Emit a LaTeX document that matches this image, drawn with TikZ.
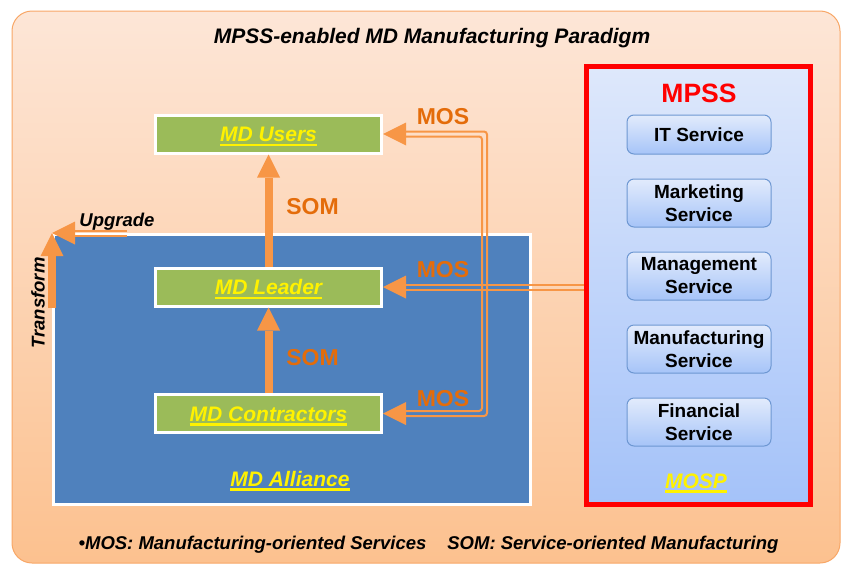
\documentclass[tikz,border=0pt]{standalone}
\usepackage{fontspec}
\setmainfont{Liberation Sans}
\usepackage{tikz}
\usetikzlibrary{positioning}
\usetikzlibrary{calc,arrows.meta}

\definecolor{paradigmtop}{HTML}{FDE6D7}
\definecolor{paradigmbottom}{HTML}{FCC18F}
\definecolor{paradigmedge}{HTML}{F8A767}
\definecolor{allianceblue}{HTML}{4F81BD}
\definecolor{mdgreen}{HTML}{9BBB59}
\definecolor{arrorange}{HTML}{F79646}
\definecolor{textorange}{HTML}{E46C0A}
\definecolor{mpsstop}{HTML}{DEE8FB}
\definecolor{mpssbottom}{HTML}{A4C2F9}
\definecolor{servicetop}{HTML}{E2EBFC}
\definecolor{servicebottom}{HTML}{A6C4F8}
\definecolor{serviceedge}{HTML}{6D97D2}

% yellow labels get a thick bar underneath
\newsavebox{\mdulbox}
\newcommand{\mdul}[1]{\sbox{\mdulbox}{#1}\rlap{\rule[-4.5pt]{\wd\mdulbox}{2.5pt}}\usebox{\mdulbox}}

\tikzset{
  mdbox/.style={draw=white, line width=3pt, fill=mdgreen, minimum width=226pt, minimum height=38pt,
    text=yellow, text height=15pt, text depth=0pt, font=\fontsize{21}{25}\selectfont\bfseries\itshape},
  service/.style={draw=serviceedge, line width=1pt, rounded corners=7pt, top color=servicetop,
    bottom color=servicebottom, minimum width=144pt, minimum height=48pt, inner sep=1pt,
    align=center, font=\fontsize{19}{23}\selectfont\bfseries},
  somarrow/.style={draw=arrorange, line width=8pt, -{Triangle[length=23pt,width=23pt,line width=0pt]}},
  mosline/.style={draw=arrorange, line width=2pt, rounded corners=3pt},
  moshead/.style={draw=arrorange, line width=0.5pt, -{Triangle[length=23pt,width=23pt,line width=0pt]}},
  flowlabel/.style={text=textorange, font=\fontsize{23}{27}\selectfont\bfseries},
  yellowlabel/.style={text=yellow, font=\fontsize{21}{25}\selectfont\bfseries\itshape},
  note/.style={font=\fontsize{18.5}{22}\selectfont\bfseries\itshape},
}

\begin{document}
\begin{tikzpicture}[x=1pt, y=-1pt]

	\useasboundingbox (0,0) rectangle (842,565);

	% background panel
	\draw[draw=paradigmedge, line width=1pt, rounded corners=20pt, top color=paradigmtop,
	      bottom color=paradigmbottom] (12,11) rectangle (840,563);
	\node[font=\fontsize{21}{25}\selectfont\bfseries\itshape] (title) at (432,38)
	     {MPSS-enabled MD Manufacturing Paradigm};

	% the alliance and its members
	\node[draw=white, line width=3pt, fill=allianceblue, minimum width=477pt, minimum height=270pt]
	     (alliance) at (292,369.5) {};
	\node[yellowlabel] (alliancelabel) at (290,481) {\mdul{MD Alliance}};

	\node[mdbox] (users) at (268.5,134) {\mdul{MD Users}};
	\node[mdbox] (leader) at (268.5,287) {\mdul{MD Leader}};
	\node[mdbox] (contractors) at (268.5,413.5) {\mdul{MD Contractors}};

	% service platform
	\node[draw=red, line width=5pt, top color=mpsstop, bottom color=mpssbottom,
	      minimum width=224pt, minimum height=438pt] (mpss) at (698.5,285.5) {};
	\node[text=red, font=\fontsize{26.5}{30}\selectfont\bfseries] (mpsstitle) at (699,93) {MPSS};

	\node[service, minimum height=39pt] (it) at (699,134.5) {IT Service};
	\node[service, below=24pt of it] (marketing) {Marketing\\Service};
	\node[service, below=24pt of marketing] (management) {Management\\Service};
	\node[service, below=24pt of management] (manufacturing) {Manufacturing\\Service};
	\node[service, below=24pt of manufacturing] (financial) {Financial\\Service};

	\node[yellowlabel] (mosp) at (696,483) {\mdul{MOSP}};

	% SOM: upward flow inside the alliance
	\draw[somarrow] (leader.north) -- (users.south);
	\draw[somarrow] (contractors.north) -- (leader.south);
	\node[flowlabel] (som1) at (312.5,207) {SOM};
	\node[flowlabel] (som2) at (312.5,358) {SOM};

	% MOS: services delivered from the platform
	\coordinate (bustop) at (484.5,134);
	\coordinate (busbottom) at (484.5,413.5);

	\draw[mosline] ($(leader.east)+(23,-2.5)$) -- ($(leader.east -| mpss.west)+(0,-2.5)$);
	\draw[mosline] ($(leader.east)+(23,2.5)$) -- ($(leader.east -| mpss.west)+(0,2.5)$);

	\draw[mosline] ($(users.east)+(23,-2.5)$) -- ($(bustop)+(2.5,-2.5)$)
	            -- ($(busbottom)+(2.5,2.5)$) -- ($(contractors.east)+(23,2.5)$);
	\draw[mosline] ($(users.east)+(23,2.5)$) -- ($(bustop)+(-2.5,2.5)$)
	            -- ($(busbottom)+(-2.5,-2.5)$) -- ($(contractors.east)+(23,-2.5)$);

	\draw[moshead] ($(users.east)+(23,0)$) -- (users.east);
	\draw[moshead] ($(leader.east)+(23,0)$) -- (leader.east);
	\draw[moshead] ($(contractors.east)+(23,0)$) -- (contractors.east);

	\node[flowlabel] (mos1) at (443,117) {MOS};
	\node[flowlabel] (mos2) at (443,270) {MOS};
	\node[flowlabel] (mos3) at (443,399) {MOS};

	% upgrade / transform at the alliance corner
	\draw[mosline] ($(alliance.north west)+(23,-2)$) -- ($(alliance.north west)+(75,-2)$);
	\draw[mosline] ($(alliance.north west)+(23,3)$) -- ($(alliance.north west)+(75,3)$);
	\draw[moshead] ($(alliance.north west)+(23,0)$) -- (alliance.north west);
	\draw[somarrow] ($(alliance.north west)+(0,75)$) -- (alliance.north west);

	\node[note] (upgrade) at (117,222) {Upgrade};
	\node[note, rotate=90] (transform) at (38,303) {Transform};

	% legend
	\node[note] (legend) at (428.5,545)
	     {\textbullet MOS: Manufacturing-oriented Services\hspace{21pt}SOM: Service-oriented Manufacturing};

\end{tikzpicture}
\end{document}
